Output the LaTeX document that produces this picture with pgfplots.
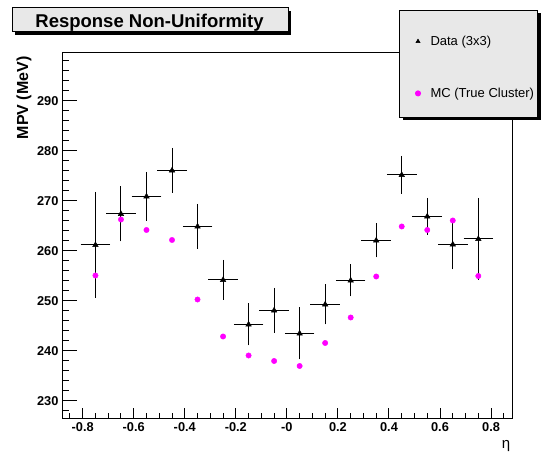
\documentclass[border=0pt]{standalone}
\usepackage{fontspec}
\setmainfont{Liberation Sans}
\usepackage{pgfplots}
\pgfplotsset{compat=1.18}
\usepackage{pgfplotstable}
\definecolor{rootmagenta}{RGB}{255,0,255}

% data (3x3): eta bin centre, MPV, half bin width, error
\pgfplotstableread{
x     y      ex    ey
-0.75 261.2  0.05  10.2
-0.65 267.4  0.05  5.1
-0.55 270.9  0.05  4.5
-0.45 276.1  0.05  4.1
-0.35 264.9  0.05  4.1
-0.25 254.2  0.05  3.6
-0.15 245.3  0.05  3.8
-0.05 248.1  0.05  4.1
0.05  243.5  0.05  4.8
0.15  249.3  0.05  3.6
0.25  254.1  0.05  2.8
0.35  262.1  0.05  3.0
0.45  275.2  0.05  3.4
0.55  266.9  0.05  3.3
0.65  261.3  0.05  4.6
0.75  262.4  0.05  7.8
}\datatab

% MC (true cluster)
\pgfplotstableread{
x     y
-0.75 255.1
-0.65 266.3
-0.55 264.2
-0.45 262.2
-0.35 250.3
-0.25 242.9
-0.15 239.1
-0.05 238.0
0.05  237.0
0.15  241.6
0.25  246.7
0.35  254.9
0.45  264.9
0.55  264.2
0.65  266.1
0.75  255.0
}\mctab

\begin{document}
\begin{tikzpicture}
\useasboundingbox (0,0) rectangle (542pt,455pt);
\pgfplotsset{
  rootframe/.style={
    at={(62pt,36pt)}, anchor=south west,
    width=450pt, height=366pt, scale only axis,
    xmin=-0.881, xmax=0.882, ymin=226.4, ymax=299.6,
    axis line style={line width=1pt},
    tick pos=left, tick align=inside,
    tick style={line width=1pt, black},
    tick label style={font=\bfseries\fontsize{12.8}{14}\selectfont},
  }
}
% y axis ticks (longer ticks than on x)
\begin{axis}[rootframe, xtick=\empty,
  ytick={230,240,...,290}, yticklabels={230,240,250,260,270,280,290},
  minor ytick={228,230,...,298},
  major tick length=15pt, minor tick length=7pt,
  ylabel={MPV (MeV)},
  every axis y label/.style={at={(axis description cs:0,1)}, xshift=-27pt,
    rotate=90, anchor=south east, font=\bfseries\fontsize{16}{18}\selectfont},
]
\end{axis}

% shadow of the legend box
\fill[black] (402.5pt,334.5pt) rectangle (541pt,441.5pt);

\begin{axis}[rootframe, ytick=\empty,
  xtick={-0.8,-0.6,-0.4,-0.2,0,0.2,0.4,0.6,0.8},
  xticklabels={-0.8,-0.6,-0.4,-0.2,-0,0.2,0.4,0.6,0.8},
  minor xtick={-0.85,-0.75,-0.7,-0.65,-0.55,-0.5,-0.45,-0.35,-0.3,-0.25,-0.15,-0.1,-0.05,
    0.05,0.1,0.15,0.25,0.3,0.35,0.45,0.5,0.55,0.65,0.7,0.75,0.85},
  major tick length=11pt, minor tick length=5.5pt,
  xlabel={η},
  every axis x label/.style={at={(axis description cs:0.987,-0.074)}, anchor=center,
    font=\fontsize{15}{16}\selectfont},
  legend cell align=left,
  legend style={at={(0.7489,1.1175)}, anchor=north west,
    draw=black, line width=1pt, fill=black!9,
    font=\fontsize{13}{15}\selectfont,
    inner xsep=1pt, inner ysep=16.5pt, row sep=37pt, column sep=0pt},
]
\addplot[black, only marks, mark=triangle*, mark size=3.2pt,
  legend image code/.code={
    \path (-17pt,-4pt) (10pt,14pt);
    \draw[black, mark=triangle*, mark size=2.4pt, line width=0.5pt] plot coordinates {(0pt,0pt)};},
  error bars/.cd, x dir=both, x explicit, y dir=both, y explicit,
  error bar style={line width=1pt, black},
  error mark options={mark size=2pt, line width=1pt, black}]
  table[x=x, y=y, x error=ex, y error=ey] {\datatab};
\addlegendentry{Data (3x3)}
\addplot[only marks, mark=*, mark size=2.7pt, mark options={draw=rootmagenta, fill=rootmagenta},
  legend image code/.code={
    \path (-17pt,-4pt) (10pt,4pt);
    \draw[mark=*, mark size=2.5pt, mark options={draw=rootmagenta, fill=rootmagenta}] plot coordinates {(0pt,0pt)};}]
  table[x=x, y=y] {\mctab};
\addlegendentry{MC (True Cluster)}
\end{axis}

% title box
\fill[black] (15pt,420pt) rectangle (291pt,444pt);
\filldraw[fill=black!9, draw=black, line width=1pt] (12pt,423pt) rectangle (288pt,447pt);
\node[anchor=base, font=\bfseries\fontsize{18.5}{20}\selectfont] at (149.5pt,427.7pt) {Response Non-Uniformity};
\end{tikzpicture}
\end{document}
